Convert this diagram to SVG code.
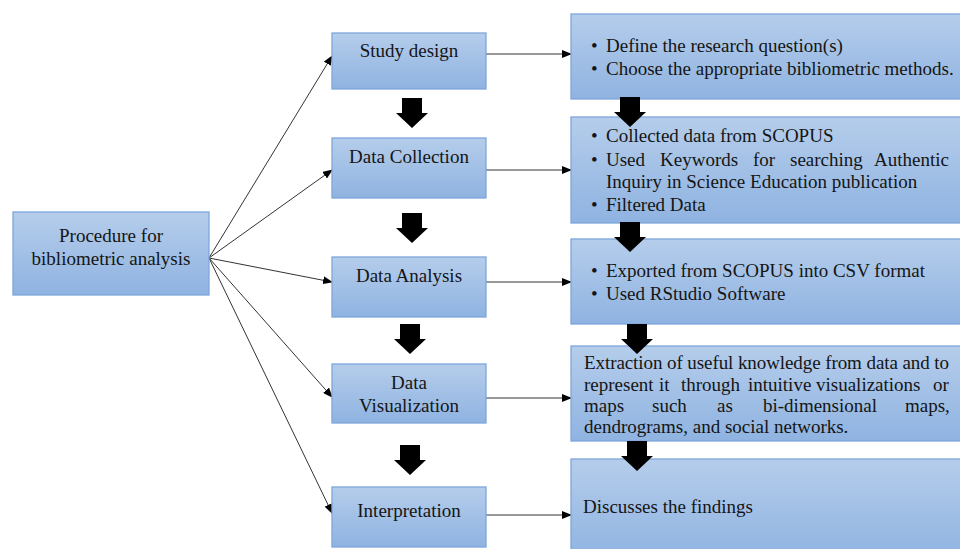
<svg xmlns="http://www.w3.org/2000/svg" width="960" height="549" viewBox="0 0 960 549">
<defs>
<linearGradient id="g" x1="0" y1="0" x2="0" y2="1">
<stop offset="0" stop-color="#b5cdeb"/>
<stop offset="1" stop-color="#8fb3e1"/>
</linearGradient>
<marker id="ah" markerWidth="10" markerHeight="8" refX="9" refY="4" orient="auto" markerUnits="userSpaceOnUse">
<path d="M0,0 L10,4 L0,8 Z" fill="#000"/>
</marker>
<path id="blk" d="M-10,0 H10 V15 H16 L0,30 L-16,15 H-10 Z"/>
</defs>
<style>
.box{fill:url(#g);stroke:#7ea6da;stroke-width:1.3}
.t{font-family:"Liberation Serif","Times New Roman",serif;font-size:19px;fill:#151515}
.c{text-anchor:middle}
.ln{stroke:#333;stroke-width:1;fill:none;marker-end:url(#ah)}
.ba{fill:#000}
</style>
<rect width="960" height="549" fill="#fff"/>

<g id="connectors">
<line class="ln" x1="209" y1="258" x2="332" y2="56"/>
<line class="ln" x1="209" y1="258" x2="332" y2="170"/>
<line class="ln" x1="209" y1="258" x2="332" y2="282"/>
<line class="ln" x1="209" y1="258" x2="332" y2="397"/>
<line class="ln" x1="209" y1="258" x2="332" y2="513"/>
<line class="ln" x1="486" y1="54" x2="571" y2="54"/>
<line class="ln" x1="486" y1="170" x2="571" y2="170"/>
<line class="ln" x1="486" y1="282" x2="571" y2="282"/>
<line class="ln" x1="486" y1="398" x2="571" y2="398"/>
<line class="ln" x1="486" y1="515" x2="571" y2="515"/>
</g>

<g id="left">
<rect class="box" x="13" y="212" width="196" height="83"/>
<text class="t c" x="111" y="242">Procedure for</text>
<text class="t c" x="111" y="265">bibliometric analysis</text>
</g>

<g id="study-design">
<rect class="box" x="332" y="33" width="154" height="56"/>
<text class="t c" x="409" y="57">Study design</text>
</g>
<g id="data-collection">
<rect class="box" x="332" y="138" width="154" height="60"/>
<text class="t c" x="409" y="163">Data Collection</text>
</g>
<g id="data-analysis">
<rect class="box" x="332" y="257" width="154" height="60"/>
<text class="t c" x="409" y="282">Data Analysis</text>
</g>
<g id="data-visualization">
<rect class="box" x="332" y="364" width="154" height="59"/>
<text class="t c" x="409" y="389">Data</text>
<text class="t c" x="409" y="412">Visualization</text>
</g>
<g id="interpretation">
<rect class="box" x="332" y="487" width="154" height="60"/>
<text class="t c" x="409" y="517">Interpretation</text>
</g>

<g id="r1">
<rect class="box" x="571" y="14" width="400" height="85"/>
<text class="t" x="591" y="52">•</text><text class="t" x="606" y="52">Define the research question(s)</text>
<text class="t" x="591" y="75">•</text><text class="t" x="606" y="75">Choose the appropriate bibliometric methods.</text>
</g>
<g id="r2">
<rect class="box" x="571" y="117" width="400" height="106"/>
<text class="t" x="591" y="142">•</text><text class="t" x="606" y="142">Collected data from SCOPUS</text>
<text class="t" x="591" y="166">•</text>
<text class="t" y="166"><tspan x="606">Used</tspan><tspan x="660">Keywords</tspan><tspan x="753">for</tspan><tspan x="790">searching</tspan><tspan x="874">Authentic</tspan></text>
<text class="t" x="606" y="188">Inquiry in Science Education publication</text>
<text class="t" x="591" y="211">•</text><text class="t" x="606" y="211">Filtered Data</text>
</g>
<g id="r3">
<rect class="box" x="571" y="239" width="400" height="85"/>
<text class="t" x="591" y="277">•</text><text class="t" x="606" y="277">Exported from SCOPUS into CSV format</text>
<text class="t" x="591" y="300">•</text><text class="t" x="606" y="300">Used RStudio Software</text>
</g>
<g id="r4">
<rect class="box" x="571" y="346" width="400" height="95"/>
<text class="t" x="584" y="369" textLength="365" lengthAdjust="spacing">Extraction of useful knowledge from data and to</text>
<text class="t" y="391"><tspan x="584">represent</tspan><tspan x="659">it</tspan><tspan x="681">through</tspan><tspan x="748">intuitive</tspan><tspan x="816">visualizations</tspan><tspan x="933">or</tspan></text>
<text class="t" y="412"><tspan x="584">maps</tspan><tspan x="652">such</tspan><tspan x="717">as</tspan><tspan x="763">bi-dimensional</tspan><tspan x="905">maps,</tspan></text>
<text class="t" x="584" y="433">dendrograms, and social networks.</text>
</g>
<g id="r5">
<rect class="box" x="571" y="459" width="400" height="100"/>
<text class="t" x="583" y="513">Discusses the findings</text>
</g>

<g id="block-arrows">
<use href="#blk" class="ba" x="412" y="98"/>
<use href="#blk" class="ba" x="412" y="213"/>
<use href="#blk" class="ba" x="410" y="324"/>
<use href="#blk" class="ba" x="410" y="445"/>
<use href="#blk" class="ba" x="630" y="97"/>
<use href="#blk" class="ba" x="630" y="222"/>
<use href="#blk" class="ba" x="637" y="324"/>
<use href="#blk" class="ba" x="637" y="441"/>
</g>
</svg>
